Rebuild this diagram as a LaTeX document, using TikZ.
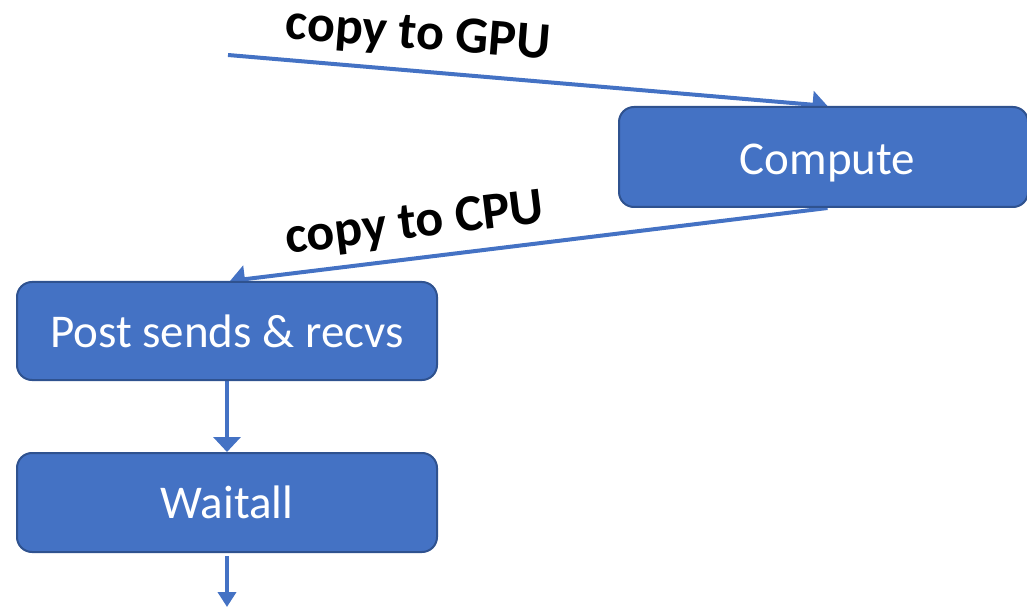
\documentclass[tikz,border=0pt]{standalone}
\usepackage{fontspec}
\setmainfont{Carlito}
\usetikzlibrary{arrows.meta,backgrounds}
\definecolor{boxfill}{HTML}{4472C4}
\definecolor{boxedge}{HTML}{2F528F}
\begin{document}
\begin{tikzpicture}[x=1pt,y=-1pt,
  stage/.style={draw=boxedge, line width=2pt, fill=boxfill, rounded corners=15pt,
    text=white, font=\fontsize{47}{56}\selectfont, inner sep=0pt},
  flow/.style={draw=boxfill, line width=4pt, -{Triangle[width=27pt,length=15pt]}},
  flowsmall/.style={draw=boxfill, line width=4pt, -{Triangle[width=18pt,length=15pt]}},
  lbl/.style={font=\fontsize{52}{62}\selectfont\bfseries, inner sep=0pt}]
\useasboundingbox (0,0) rectangle (1027,609);

% processing stages
\node[stage, minimum width=409pt, minimum height=100pt, text depth=0pt] (compute) at (823.5,157)
  {\raisebox{-4pt}{\hspace{8pt}Compute}};
\node[stage, minimum width=420pt, minimum height=98pt] (post) at (227,331) {Post sends \& recvs};
\node[stage, minimum width=420pt, minimum height=99pt] (wait) at (227,502.5) {Waitall};

% loose ends of the flow
\coordinate (start) at (228,55);
\coordinate (finish) at (227,607);

% connectors behind the boxes
\begin{scope}[on background layer]
  \draw[flow] (start) -- ([xshift=4pt]compute.north);
  \draw[flow] ([xshift=4pt]compute.south) -- ([xshift=3pt]post.north);
  \draw[flow] (post.south) -- (wait.north);
  \draw[flowsmall] ([yshift=-3pt]wait.south) -- (finish);
\end{scope}

% transfer labels
\node[lbl, rotate=-4.5] (togpu) at (418,36) {copy to GPU};
\node[lbl, rotate=7] (tocpu) at (415,225) {copy to CPU};
\end{tikzpicture}
\end{document}
